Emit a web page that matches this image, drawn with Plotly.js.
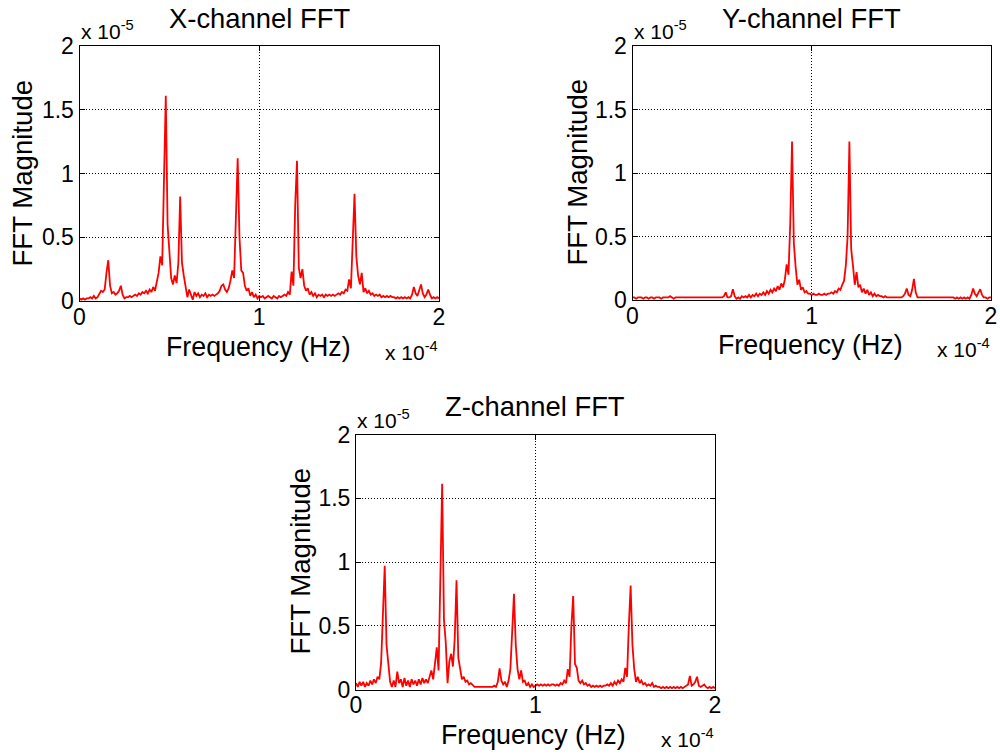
<!DOCTYPE html>
<html>
<head>
<meta charset="utf-8">
<script src="https://cdn.plot.ly/plotly-3.0.1.min.js"></script>
<style>html,body{margin:0;padding:0;background:#fff;}#chart{width:1000px;height:755px;}</style>
</head>
<body>
<div id="chart"></div>
<script>
// Frequency bins, in units of 1e-4 Hz (axis multiplier shown as "x 10^-4")
const freq = [0,0.01,0.02,0.03,0.04,0.05,0.06,0.07,0.08,0.09,
0.10,0.11,0.12,0.13,0.14,0.15,0.16,0.17,0.18,0.19,
0.20,0.21,0.22,0.23,0.24,0.25,0.26,0.27,0.28,0.29,
0.30,0.31,0.32,0.33,0.34,0.35,0.36,0.37,0.38,0.39,
0.40,0.41,0.42,0.43,0.44,0.45,0.46,0.47,0.48,0.49,
0.50,0.51,0.52,0.53,0.54,0.55,0.56,0.57,0.58,0.59,
0.60,0.61,0.62,0.63,0.64,0.65,0.66,0.67,0.68,0.69,
0.70,0.71,0.72,0.73,0.74,0.75,0.76,0.77,0.78,0.79,
0.80,0.81,0.82,0.83,0.84,0.85,0.86,0.87,0.88,0.89,
0.90,0.91,0.92,0.93,0.94,0.95,0.96,0.97,0.98,0.99,
1.00,1.01,1.02,1.03,1.04,1.05,1.06,1.07,1.08,1.09,
1.10,1.11,1.12,1.13,1.14,1.15,1.16,1.17,1.18,1.19,
1.20,1.21,1.22,1.23,1.24,1.25,1.26,1.27,1.28,1.29,
1.30,1.31,1.32,1.33,1.34,1.35,1.36,1.37,1.38,1.39,
1.40,1.41,1.42,1.43,1.44,1.45,1.46,1.47,1.48,1.49,
1.50,1.51,1.52,1.53,1.54,1.55,1.56,1.57,1.58,1.59,
1.60,1.61,1.62,1.63,1.64,1.65,1.66,1.67,1.68,1.69,
1.70,1.71,1.72,1.73,1.74,1.75,1.76,1.77,1.78,1.79,
1.80,1.81,1.82,1.83,1.84,1.85,1.86,1.87,1.88,1.89,
1.90,1.91,1.92,1.93,1.94,1.95,1.96,1.97,1.98,1.99,
2.00];

// FFT magnitudes, in units of 1e-5 (axis multiplier shown as "x 10^-5")
const xMag = [0.02,0.01,0.02,0.01,0.02,0.02,0.03,0.02,0.04,0.02,
0.03,0.05,0.08,0.07,0.09,0.22,0.32,0.12,0.06,0.07,
0.05,0.06,0.08,0.12,0.05,0.02,0.03,0.03,0.04,0.03,
0.04,0.05,0.04,0.06,0.05,0.07,0.06,0.08,0.06,0.09,
0.07,0.11,0.08,0.14,0.22,0.35,0.28,0.95,1.61,0.60,
0.34,0.18,0.13,0.20,0.14,0.30,0.82,0.30,0.20,0.10,
0.03,0.09,0.04,0.01,0.07,0.04,0.06,0.03,0.05,0.04,
0.06,0.03,0.05,0.04,0.05,0.04,0.05,0.06,0.08,0.12,
0.13,0.09,0.07,0.10,0.16,0.24,0.18,0.60,1.12,0.50,
0.24,0.22,0.12,0.08,0.10,0.04,0.07,0.03,0.05,0.02,
0.04,0.03,0.04,0.02,0.03,0.04,0.03,0.02,0.04,0.03,
0.02,0.04,0.03,0.04,0.05,0.04,0.07,0.05,0.23,0.12,
0.75,1.10,0.26,0.18,0.25,0.12,0.08,0.10,0.05,0.07,
0.04,0.06,0.03,0.05,0.04,0.05,0.03,0.05,0.04,0.05,
0.04,0.05,0.04,0.05,0.06,0.05,0.07,0.06,0.09,0.08,
0.17,0.10,0.45,0.84,0.35,0.20,0.13,0.22,0.07,0.10,
0.06,0.08,0.05,0.06,0.04,0.05,0.04,0.05,0.03,0.04,
0.03,0.04,0.03,0.04,0.03,0.03,0.02,0.03,0.02,0.03,
0.02,0.03,0.02,0.03,0.02,0.05,0.11,0.06,0.04,0.08,
0.13,0.06,0.03,0.05,0.09,0.05,0.02,0.03,0.02,0.03,
0.02];

const yMag = [0.02,0.02,0.01,0.02,0.02,0.02,0.01,0.02,0.02,0.01,
0.02,0.02,0.01,0.02,0.02,0.02,0.01,0.02,0.02,0.02,
0.02,0.03,0.02,0.01,0.02,0.02,0.02,0.02,0.02,0.02,
0.02,0.02,0.02,0.02,0.02,0.02,0.02,0.02,0.02,0.02,
0.02,0.02,0.02,0.02,0.02,0.02,0.02,0.02,0.02,0.02,
0.02,0.03,0.06,0.02,0.02,0.03,0.085,0.03,0.01,0.02,
0.01,0.03,0.02,0.03,0.02,0.04,0.02,0.04,0.03,0.05,
0.03,0.05,0.04,0.06,0.04,0.07,0.05,0.08,0.06,0.09,
0.07,0.11,0.08,0.13,0.10,0.16,0.28,0.20,0.60,1.247,
0.45,0.26,0.12,0.16,0.08,0.10,0.06,0.07,0.05,0.05,
0.04,0.05,0.04,0.04,0.05,0.04,0.04,0.05,0.04,0.05,
0.05,0.06,0.05,0.07,0.06,0.09,0.08,0.12,0.15,0.27,
0.50,1.247,0.40,0.27,0.12,0.22,0.10,0.12,0.06,0.09,
0.05,0.08,0.04,0.06,0.03,0.05,0.03,0.04,0.03,0.03,
0.02,0.03,0.02,0.02,0.02,0.02,0.02,0.02,0.02,0.02,
0.02,0.03,0.05,0.09,0.04,0.03,0.08,0.167,0.06,0.02,
0.02,0.02,0.02,0.02,0.02,0.02,0.02,0.02,0.02,0.02,
0.02,0.02,0.02,0.02,0.02,0.02,0.02,0.02,0.02,0.02,
0.01,0.02,0.01,0.02,0.01,0.02,0.01,0.02,0.01,0.04,
0.09,0.05,0.03,0.06,0.085,0.04,0.02,0.02,0.01,0.02,
0.02];

const zMag = [0.05,0.02,0.06,0.03,0.06,0.02,0.05,0.03,0.07,0.04,
0.08,0.05,0.10,0.08,0.21,0.60,0.97,0.35,0.21,0.06,
0.02,0.07,0.02,0.14,0.05,0.08,0.02,0.09,0.03,0.07,
0.02,0.08,0.04,0.07,0.03,0.08,0.04,0.09,0.05,0.08,
0.05,0.10,0.15,0.08,0.21,0.33,0.15,0.90,1.613,0.55,
0.37,0.05,0.22,0.28,0.18,0.40,0.857,0.25,0.15,0.08,
0.10,0.06,0.07,0.04,0.05,0.03,0.02,0.02,0.02,0.02,
0.02,0.02,0.02,0.02,0.02,0.02,0.02,0.03,0.02,0.06,
0.165,0.07,0.04,0.06,0.02,0.07,0.16,0.45,0.75,0.35,
0.16,0.08,0.15,0.06,0.07,0.03,0.05,0.02,0.04,0.02,
0.03,0.04,0.03,0.04,0.03,0.04,0.03,0.04,0.03,0.04,
0.04,0.03,0.04,0.03,0.05,0.04,0.07,0.05,0.16,0.10,
0.50,0.734,0.20,0.17,0.07,0.05,0.07,0.04,0.05,0.03,
0.04,0.02,0.03,0.02,0.03,0.02,0.03,0.02,0.03,0.03,
0.04,0.03,0.05,0.03,0.06,0.04,0.07,0.05,0.08,0.06,
0.17,0.10,0.50,0.816,0.35,0.16,0.06,0.10,0.05,0.07,
0.04,0.05,0.03,0.04,0.03,0.05,0.02,0.03,0.02,0.02,
0.01,0.02,0.01,0.02,0.01,0.02,0.01,0.02,0.01,0.02,
0.01,0.02,0.01,0.02,0.03,0.04,0.107,0.03,0.04,0.06,
0.10,0.03,0.02,0.03,0.04,0.02,0.01,0.02,0.01,0.02,
0.01];

const panelTitles = ['X-channel FFT', 'Y-channel FFT', 'Z-channel FFT'];
const xLabel = 'Frequency (Hz)';
const yLabel = 'FFT Magnitude';
const xExp = 'x 10<sup>-4</sup>';
const yExp = 'x 10<sup>-5</sup>';
const xTicks = [0, 1, 2];
const yTicks = [0, 0.5, 1, 1.5, 2];

// ---- layout helpers (pixel positions -> paper fractions) ----
const W = 1000, H = 755;
const px = x => x / W;
const py = y => 1 - y / H;
// plot boxes: [left, top, right, bottom] in pixels
const boxes = [[79.5, 46, 439, 301], [632.5, 46, 991, 300], [356, 434.5, 715, 689.5]];
const FONT = '"Liberation Sans", Arial, Helvetica, sans-serif';

const series = [xMag, yMag, zMag];
const traces = series.map((m, k) => ({
  x: freq, y: m, type: 'scatter', mode: 'lines',
  line: {color: '#ff0000', width: 1.8},
  xaxis: k === 0 ? 'x' : 'x' + (k + 1),
  yaxis: k === 0 ? 'y' : 'y' + (k + 1),
  hoverinfo: 'skip', showlegend: false
}));

function xa(b, anchor) {
  return {domain: [px(b[0]), px(b[2])], anchor: anchor, range: [0, 2],
    tickvals: xTicks, ticktext: xTicks.map(String), ticks: 'inside', ticklen: 5,
    ticklabelstandoff: -5,
    tickcolor: '#000', showline: true, linecolor: '#000', linewidth: 1, mirror: 'ticks',
    showgrid: true, gridcolor: '#000', griddash: '1px,2px', gridwidth: 1, zeroline: false,
    tickfont: {family: FONT, size: 23, color: '#000'}, fixedrange: true};
}
function ya(b, anchor) {
  return {domain: [py(b[3]), py(b[1])], anchor: anchor, range: [0, 2],
    tickvals: yTicks, ticktext: yTicks.map(String), ticks: 'inside', ticklen: 5,
    tickcolor: '#000', showline: true, linecolor: '#000', linewidth: 1, mirror: 'ticks',
    showgrid: true, gridcolor: '#000', griddash: '1px,2px', gridwidth: 1, zeroline: false,
    tickfont: {family: FONT, size: 23, color: '#000'}, fixedrange: true};
}

const titlePos = [[259, 18], [811, 18], [535, 407]];
const yLabPos = [[22.5, 173], [576.5, 172], [299.5, 561]];
const xLabPos = [[258, 347], [810.5, 345], [533, 735]];
const yExpPos = [[80, 44], [633, 43.5], [356, 433]];
const xExpPos = [[439, 365], [991, 362], [715, 752]];

const annotations = [];
for (let k = 0; k < 3; k++) {
  annotations.push({text: panelTitles[k], xref: 'paper', yref: 'paper', x: px(titlePos[k][0]), y: py(titlePos[k][1]),
    xanchor: 'center', yanchor: 'middle', showarrow: false, font: {family: FONT, size: 27.4, color: '#000'}});
  annotations.push({text: yLabel, xref: 'paper', yref: 'paper', x: px(yLabPos[k][0]), y: py(yLabPos[k][1]),
    xanchor: 'center', yanchor: 'middle', textangle: -90, showarrow: false, font: {family: FONT, size: 27.6, color: '#000'}});
  annotations.push({text: xLabel, xref: 'paper', yref: 'paper', x: px(xLabPos[k][0]), y: py(xLabPos[k][1]),
    xanchor: 'center', yanchor: 'middle', showarrow: false, borderpad: 0, font: {family: FONT, size: 26.8, color: '#000'}});
  annotations.push({text: yExp, xref: 'paper', yref: 'paper', x: px(yExpPos[k][0]), y: py(yExpPos[k][1]),
    xanchor: 'left', yanchor: 'bottom', showarrow: false, borderpad: 0, font: {family: FONT, size: 21, color: '#000'}});
  annotations.push({text: xExp, xref: 'paper', yref: 'paper', x: px(xExpPos[k][0]), y: py(xExpPos[k][1]),
    xanchor: 'right', yanchor: 'bottom', showarrow: false, borderpad: 0, font: {family: FONT, size: 21, color: '#000'}});
}

const layout = {
  width: W, height: H, margin: {l: 0, r: 0, t: 0, b: 0},
  paper_bgcolor: '#fff', plot_bgcolor: '#fff', showlegend: false,
  font: {family: FONT, color: '#000'},
  xaxis: xa(boxes[0], 'y'), yaxis: ya(boxes[0], 'x'),
  xaxis2: xa(boxes[1], 'y2'), yaxis2: ya(boxes[1], 'x2'),
  xaxis3: xa(boxes[2], 'y3'), yaxis3: ya(boxes[2], 'x3'),
  annotations: annotations
};

Plotly.newPlot('chart', traces, layout, {staticPlot: true, displayModeBar: false});
</script>
</body>
</html>
